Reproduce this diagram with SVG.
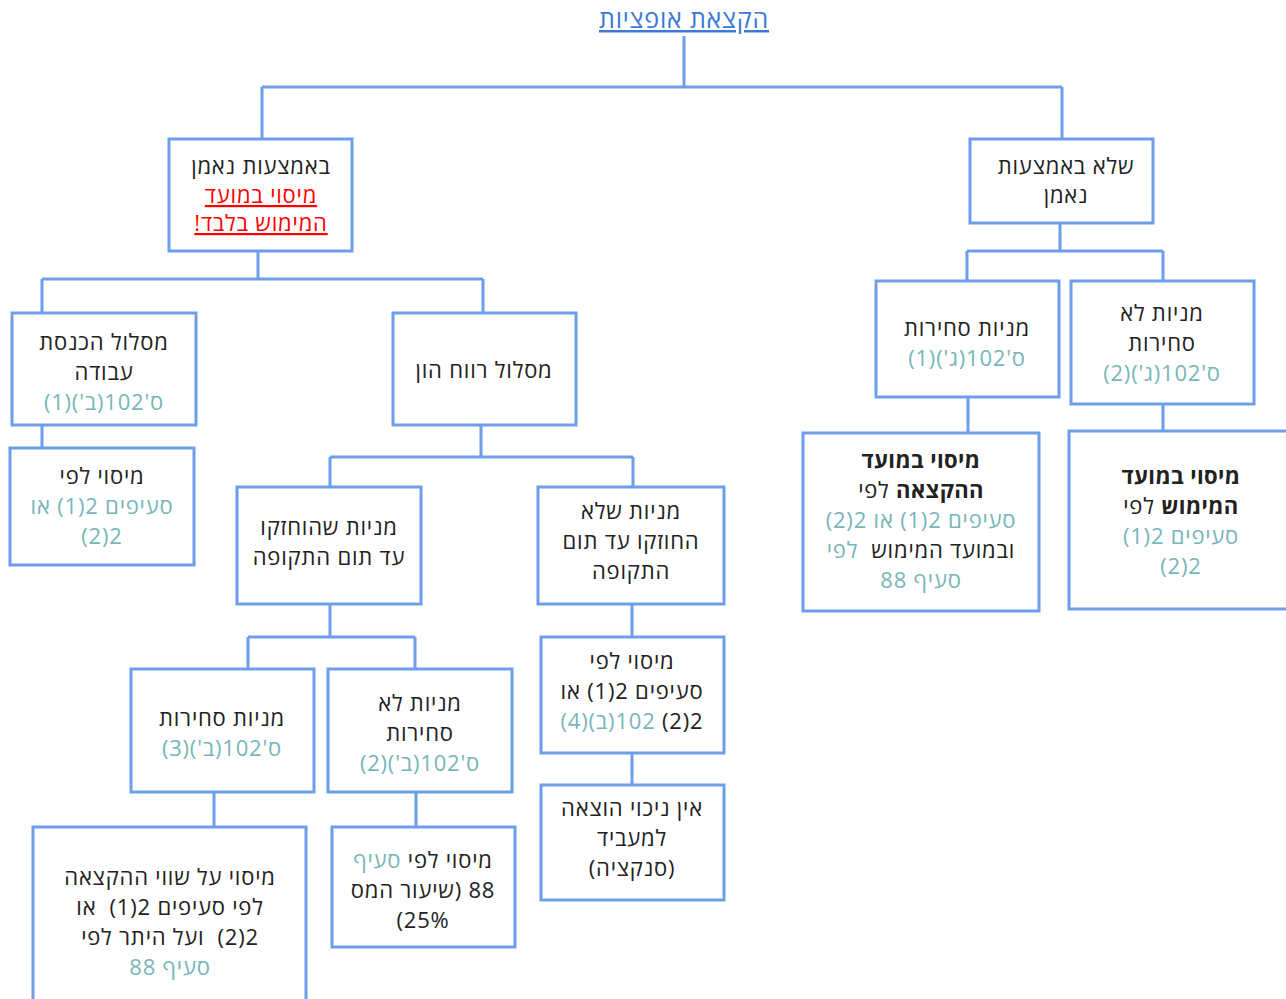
<svg xmlns="http://www.w3.org/2000/svg" width="1286" height="999" viewBox="0 0 1286 999">
<style>
.bg{fill:#ffffff}
.box{fill:#ffffff;stroke:#6d9eeb;stroke-width:3}
.ln{fill:none;stroke:#6d9eeb;stroke-width:3}
text{font-family:"Open Sans","DejaVu Sans","Liberation Sans",sans-serif;font-size:22px;letter-spacing:0.8px;fill:#222222;text-anchor:middle;direction:rtl;unicode-bidi:embed}
.t{fill:#77b6b9}
.r{fill:#ff0000;text-decoration:underline}
.b{font-weight:bold;letter-spacing:0.4px}
.title{fill:#3c78d8;text-decoration:underline;font-size:25px}
</style>
<rect class="bg" x="0" y="0" width="1286" height="999"/>
<g id="connectors">
<path class="ln" d="M684 36V87M262 87H1062M262 87V139M1062 87V139"/>
<path class="ln" d="M258 251V279M42 279H483M42 279V313M483 279V313"/>
<path class="ln" d="M42 425V448"/>
<path class="ln" d="M481 425V457M330 457H633M330 457V487M633 457V487"/>
<path class="ln" d="M330 604V637M248 637H415M248 637V669M415 637V669"/>
<path class="ln" d="M214 792V827M416 792V827"/>
<path class="ln" d="M632 604V637M632 753V785"/>
<path class="ln" d="M1060 223V251M967 251H1163M967 251V281M1163 251V281"/>
<path class="ln" d="M968 397V433M1163 404V431"/>
</g>
<g id="title"><text class="title" x="684" y="28">הקצאת אופציות</text></g>
<g id="n1"><rect class="box" x="169" y="139" width="183" height="112"/>
<text x="261" y="174">באמצעות נאמן</text>
<text class="r" x="261" y="203">מיסוי במועד</text>
<text class="r" x="261" y="231">המימוש בלבד!</text></g>
<g id="n2"><rect class="box" x="970" y="139" width="183" height="84"/>
<text x="1066" y="174">שלא באמצעות</text>
<text x="1066" y="203">נאמן</text></g>
<g id="n3"><rect class="box" x="12" y="313" width="184" height="112"/>
<text x="104" y="350">מסלול הכנסת</text>
<text x="104" y="380">עבודה</text>
<text class="t" x="104" y="410">ס'102(ב')(1)</text></g>
<g id="n4"><rect class="box" x="10" y="448" width="184" height="117"/>
<text x="102" y="484">מיסוי לפי</text>
<text class="t" x="102" y="514">סעיפים 2(1) או</text>
<text class="t" x="102" y="544">2(2)</text></g>
<g id="n5"><rect class="box" x="393" y="313" width="183" height="112"/>
<text x="484" y="378">מסלול רווח הון</text></g>
<g id="n6"><rect class="box" x="237" y="487" width="184" height="117"/>
<text x="329" y="535">מניות שהוחזקו</text>
<text x="329" y="565">עד תום התקופה</text></g>
<g id="n7"><rect class="box" x="538" y="487" width="186" height="117"/>
<text x="631" y="519">מניות שלא</text>
<text x="631" y="549">החוזקו עד תום</text>
<text x="631" y="579">התקופה</text></g>
<g id="n8"><rect class="box" x="131" y="669" width="183" height="123"/>
<text x="222" y="726">מניות סחירות</text>
<text class="t" x="222" y="756">ס'102(ב')(3)</text></g>
<g id="n9"><rect class="box" x="328" y="669" width="184" height="123"/>
<text x="420" y="711">מניות לא</text>
<text x="420" y="741">סחירות</text>
<text class="t" x="420" y="771">ס'102(ב')(2)</text></g>
<g id="n10"><rect class="box" x="33" y="827" width="273" height="190"/>
<text x="170" y="885">מיסוי על שווי ההקצאה</text>
<text x="170" y="915">לפי סעיפים 2(1)&#160; או</text>
<text x="170" y="945">2(2)&#160; ועל היתר לפי</text>
<text class="t" x="170" y="975">סעיף 88</text></g>
<g id="n11"><rect class="box" x="332" y="827" width="183" height="120"/>
<text x="423" y="868">מיסוי לפי <tspan class="t">סעיף</tspan></text>
<text x="423" y="898">88 (שיעור המס</text>
<text x="423" y="928">25%)</text></g>
<g id="n12"><rect class="box" x="541" y="637" width="183" height="116"/>
<text x="632" y="669">מיסוי לפי</text>
<text x="632" y="699">סעיפים 2(1) או</text>
<text x="632" y="729">2(2) <tspan class="t">102(ב)(4)</tspan></text></g>
<g id="n13"><rect class="box" x="541" y="785" width="183" height="115"/>
<text x="632" y="816">אין ניכוי הוצאה</text>
<text x="632" y="846">למעביד</text>
<text x="632" y="876">(סנקציה)</text></g>
<g id="n14"><rect class="box" x="876" y="281" width="183" height="116"/>
<text x="967" y="336">מניות סחירות</text>
<text class="t" x="967" y="366">ס'102(ג')(1)</text></g>
<g id="n15"><rect class="box" x="1071" y="281" width="183" height="123"/>
<text x="1162" y="321">מניות לא</text>
<text x="1162" y="351">סחירות</text>
<text class="t" x="1162" y="381">ס'102(ג')(2)</text></g>
<g id="n16"><rect class="box" x="803" y="433" width="236" height="178"/>
<text class="b" x="921" y="468">מיסוי במועד</text>
<text x="921" y="498"><tspan class="b">ההקצאה</tspan> לפי</text>
<text class="t" x="921" y="528">סעיפים 2(1) או 2(2)</text>
<text x="921" y="558">ובמועד המימוש&#160; <tspan class="t">לפי</tspan></text>
<text class="t" x="921" y="588">סעיף 88</text></g>
<g id="n17"><rect class="box" x="1069" y="431" width="230" height="178"/>
<text class="b" x="1181" y="484">מיסוי במועד</text>
<text x="1181" y="514"><tspan class="b">המימוש</tspan> לפי</text>
<text class="t" x="1181" y="544">סעיפים 2(1)</text>
<text class="t" x="1181" y="574">2(2)</text></g>
</svg>
